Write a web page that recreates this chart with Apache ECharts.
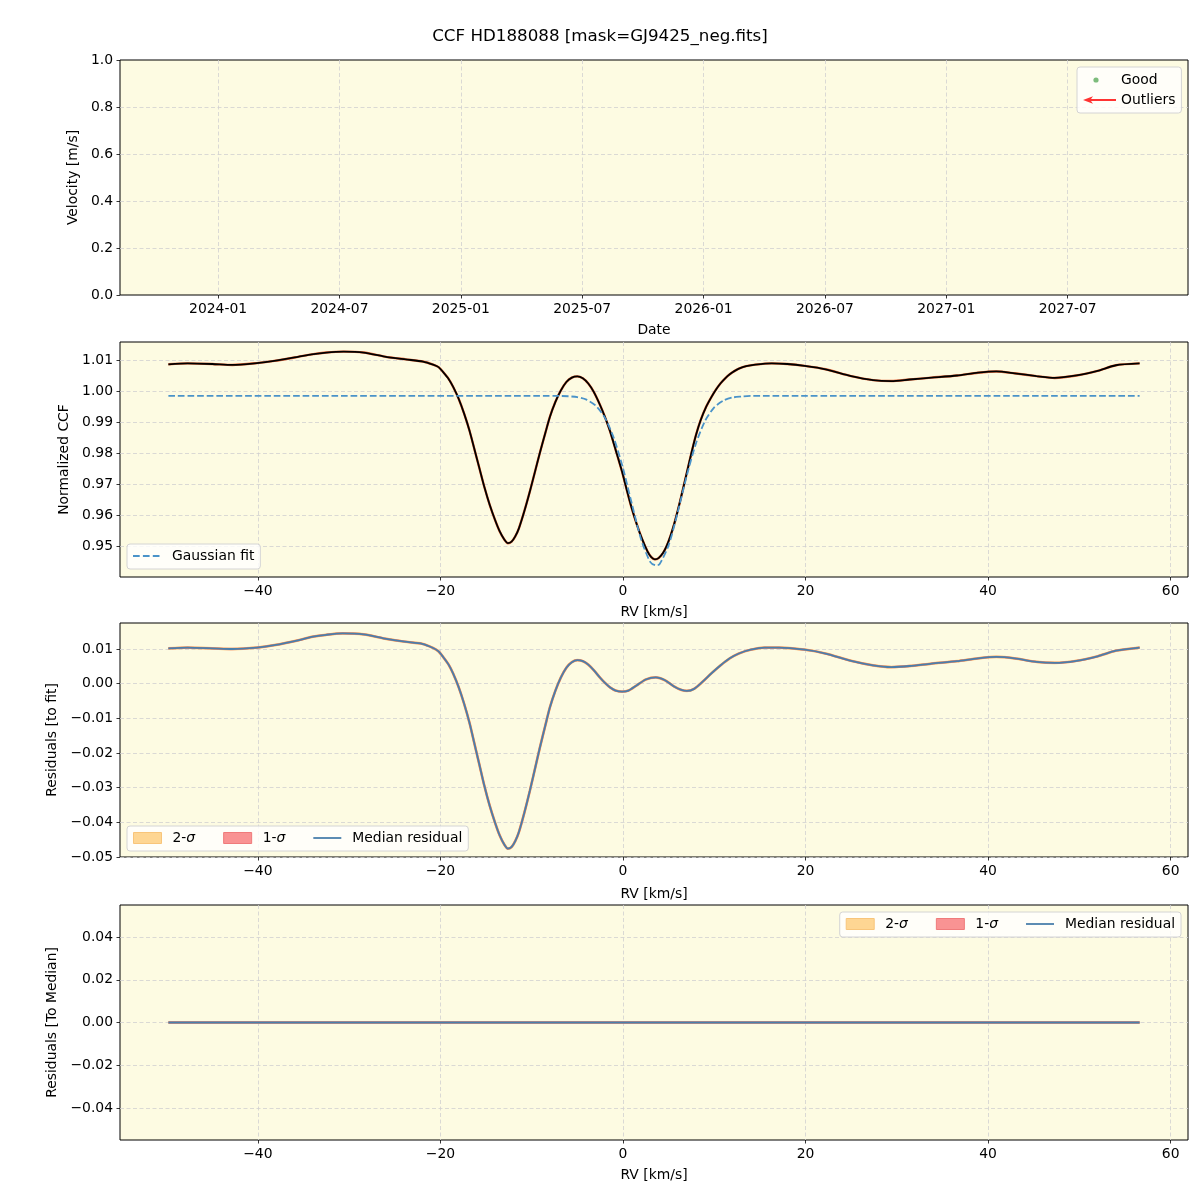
<!DOCTYPE html>
<html><head><meta charset="utf-8">
<script src="https://cdn.jsdelivr.net/npm/echarts@6/dist/echarts.min.js"></script>
<style>html,body{margin:0;padding:0;background:#fff}#c{width:1200px;height:1200px}</style>
</head><body><div id="c"></div>
<script>
// ---------- data ----------
const TITLE = 'CCF HD188088 [mask=GJ9425_neg.fits]';

// Tick positions
const rvTicks   = [-40, -20, 0, 20, 40, 60];
const dateTicks = [12, 18, 24, 30, 36, 42, 48, 54];   // months since 2023-01
const velTicks  = [0, 0.2, 0.4, 0.6, 0.8, 1.0];
const ccfTicks  = [0.95, 0.96, 0.97, 0.98, 0.99, 1.00, 1.01];
const resTicks  = [-0.05, -0.04, -0.03, -0.02, -0.01, 0.00, 0.01];
const medTicks  = [-0.04, -0.02, 0.00, 0.02, 0.04];

// Panel 2: normalized CCF
const ccfRV = [-49.8,-47.7,-45.0,-42.8,-40.1,-38.2,-35.6,-34.1,-32.5,-30.6,-28.4,-26.1,-23.8,-21.9,-20.8,-20.2,-19.7,-19.1,-18.6,-18.0,-17.4,-16.8,-16.3,-15.7,-15.2,-14.6,-14.0,-13.5,-13.0,-12.6,-12.2,-11.8,-11.4,-10.8,-10.2,-9.6,-9.1,-8.5,-8.0,-7.4,-6.8,-6.2,-5.6,-5.0,-4.4,-3.8,-3.2,-2.5,-2.0,-1.4,-0.8,-0.1,0.4,0.9,1.5,2.1,2.7,3.1,3.5,3.9,4.4,4.8,5.2,5.6,6.0,6.4,7.0,7.5,8.0,8.5,9.1,9.7,10.2,10.7,11.2,11.7,12.2,12.7,13.5,14.5,16.3,18.0,19.9,22.2,25.0,27.4,29.4,31.4,33.8,36.6,38.9,40.9,42.9,45.3,47.3,49.7,52.0,54.0,56.6];
const ccfVal = [1.0086,1.0089,1.0087,1.0084,1.0090,1.0097,1.0110,1.0118,1.0124,1.0127,1.0124,1.0111,1.0102,1.0095,1.0085,1.0077,1.0061,1.0039,1.0013,0.9975,0.9927,0.9871,0.9815,0.9748,0.9692,0.9633,0.9583,0.9547,0.9521,0.9509,0.9514,0.9531,0.9557,0.9613,0.9676,0.9744,0.9801,0.9865,0.9917,0.9965,1.0002,1.0029,1.0043,1.0047,1.0041,1.0024,0.9997,0.9954,0.9918,0.9869,0.9810,0.9740,0.9683,0.9628,0.9571,0.9522,0.9482,0.9464,0.9457,0.9461,0.9478,0.9501,0.9532,0.9570,0.9614,0.9662,0.9737,0.9800,0.9858,0.9905,0.9948,0.9981,1.0005,1.0025,1.0041,1.0054,1.0064,1.0072,1.0080,1.0085,1.0089,1.0087,1.0081,1.0070,1.0048,1.0035,1.0032,1.0037,1.0043,1.0050,1.0059,1.0063,1.0057,1.0048,1.0042,1.0050,1.0065,1.0083,1.0089];

// Panel 2: Gaussian fit
const fitRV  = [-49.8,-7,-6,-5,-4,-3,-2,-1,0,1,2,3,3.6,4,5,6,7,8,9,10,11,12,13,14,56.6];
const fitVal = [0.9984,0.9984,0.9983,0.9980,0.9972,0.9953,0.9915,0.9848,0.9751,0.9633,0.9520,0.9448,0.9438,0.9441,0.9502,0.9609,0.9728,0.9831,0.9904,0.9947,0.9969,0.9979,0.9982,0.9984,0.9984];

// Panel 3: residuals to fit
const resRV  = [-49.8,-47.7,-45.0,-42.8,-40.1,-38.2,-35.6,-34.1,-32.5,-30.7,-28.4,-26.1,-23.9,-22.0,-20.8,-20.2,-19.7,-19.1,-18.6,-18.0,-17.4,-16.8,-16.3,-15.7,-15.2,-14.6,-14.0,-13.5,-13.0,-12.6,-12.2,-11.8,-11.4,-10.8,-10.2,-9.6,-9.1,-8.5,-8.0,-7.4,-6.8,-6.2,-5.6,-5.0,-4.4,-3.8,-3.2,-2.5,-2.0,-1.4,-0.8,-0.1,0.6,1.5,2.5,3.6,4.6,5.6,6.4,7.0,7.8,8.7,9.7,10.7,11.7,12.7,14.0,15.5,17.1,19.9,22.2,25.0,27.4,29.4,31.4,33.8,36.6,38.9,40.9,42.9,45.3,47.3,49.7,52.0,54.0,56.6];
const resVal = [0.0102,0.0104,0.0102,0.0100,0.0104,0.0111,0.0125,0.0135,0.0141,0.0145,0.0142,0.0130,0.0121,0.0115,0.0103,0.0093,0.0077,0.0055,0.0029,-0.0010,-0.0058,-0.0114,-0.0170,-0.0237,-0.0293,-0.0352,-0.0402,-0.0438,-0.0464,-0.0476,-0.0471,-0.0454,-0.0428,-0.0372,-0.0309,-0.0241,-0.0184,-0.0120,-0.0068,-0.0020,0.0018,0.0046,0.0062,0.0068,0.0065,0.0055,0.0039,0.0017,0.0003,-0.0011,-0.0020,-0.0023,-0.0020,-0.0005,0.0012,0.0018,0.0010,-0.0008,-0.0018,-0.0021,-0.0015,0.0005,0.0030,0.0053,0.0073,0.0087,0.0098,0.0104,0.0104,0.0098,0.0087,0.0066,0.0053,0.0048,0.0051,0.0058,0.0065,0.0073,0.0077,0.0073,0.0063,0.0060,0.0066,0.0079,0.0095,0.0104];

// Panel 4: residuals to median
const medRV  = [-49.8, 56.6];
const medVal = [0.0, 0.0];

// Panel 1 (empty): good points / outliers
const goodPts = [];
const outlierPts = [];

// ---------- helpers ----------
const zip = (a, b) => a.map((x, i) => [x, b[i]]);
const FONT = 'DejaVu Sans';
const FS = 13.9;
const BG = '#fdfbe2';
const isMult = (v, step) => Math.abs(v / step - Math.round(v / step)) < 1e-6;
const fmt = (v, d) => { if (Math.abs(v) < 1e-9) v = 0; return (v < 0 ? '\u2212' : '') + Math.abs(v).toFixed(d); };
const monthLabel = m => { const r = Math.round(m); const y = 2023 + Math.floor(r / 12); const mo = (r % 12) + 1; return y + '-' + (mo < 10 ? '0' : '') + mo; };

const gridBase = { left: 120, width: 1068, show: true, backgroundColor: BG, borderColor: '#000', borderWidth: 1, containLabel: false, outerBoundsMode: 'none' };
const splitLine = { show: true, lineStyle: { color: '#d0d0d0', type: [4, 2.5], width: 0.8 } };
const splitLineNoEdges = Object.assign({}, splitLine, { showMinLine: false, showMaxLine: false });
const tick = vals => ({ show: true, inside: false, length: 3.5, customValues: vals, lineStyle: { color: '#000', width: 0.8 } });
const axisLine = { show: false, onZero: false };
const labelBase = { color: '#000', fontFamily: FONT, fontSize: FS, margin: 7 };
const nameStyle = { color: '#000', fontFamily: FONT, fontSize: FS, lineHeight: 14 };

function xAxisRV(gi, gap) {
  return { type: 'value', gridIndex: gi, min: -55.1, max: 61.9, minInterval: 20, maxInterval: 20,
    name: 'RV [km/s]', nameLocation: 'middle', nameGap: gap, nameTextStyle: nameStyle,
    axisLine, axisTick: tick(rvTicks), splitLine,
    axisLabel: Object.assign({}, labelBase, { formatter: v => isMult(v, 20) ? fmt(v, 0) : '' }) };
}
function yAxisV(gi, name, gap, min, max, step, dec, ticks, sl) {
  return { type: 'value', gridIndex: gi, min, max, minInterval: step, maxInterval: step,
    name, nameLocation: 'middle', nameGap: gap, nameTextStyle: nameStyle,
    axisLine, axisTick: tick(ticks), splitLine: sl || splitLine,
    axisLabel: Object.assign({}, labelBase, { formatter: v => ticks.some(t => Math.abs(t - v) < step * 1e-4) ? fmt(v, dec) : '' }) };
}

const legendBox = { backgroundColor: 'rgba(255,255,255,0.8)', borderColor: '#d4d4d4', borderWidth: 1, borderRadius: 3 };
const legendText = { fontFamily: FONT, fontSize: FS, color: '#000', lineHeight: 14, padding: [0, 0, 0, 6], rich: { i: { fontFamily: FONT, fontSize: FS, fontStyle: 'italic', color: '#000' } } };
const sigmaFmt = n => n.replace('\u03c3', '{i|\u03c3}');
const patch2 = { color: '#fed693', borderColor: '#f8c57a', borderWidth: 1 };
const patch1 = { color: '#f99393', borderColor: '#ef7b7b', borderWidth: 1 };
const lineIcon = 'path://M0,0M28,11M0,4.6L28,4.6L28,6.4L0,6.4Z';
const dashIcon = 'path://M0,0M28,11M0,4.6L6.7,4.6L6.7,6.4L0,6.4ZM9.9,4.6L16.6,4.6L16.6,6.4L9.9,6.4ZM19.8,4.6L26.5,4.6L26.5,6.4L19.8,6.4Z';
const sigmaLegendData = [
  { name: '2-\u03c3', icon: 'rect', itemStyle: patch2 },
  { name: '1-\u03c3', icon: 'rect', itemStyle: patch1 },
  { name: 'Median residual', icon: lineIcon, itemStyle: { color: '#4a7fab', borderWidth: 0 } }
];

const dotIcon = 'path://M0,0M33,8M10.4,4A2.6,2.6,0,1,1,15.6,4A2.6,2.6,0,1,1,10.4,4Z';
const arrowIcon = 'path://M0,4L10,0.2L8,2.9L33,2.9L33,5.1L8,5.1L10,7.8Z';

const lineS = (name, ax, data, color, width, extra) => Object.assign({
  type: 'line', name, xAxisIndex: ax, yAxisIndex: ax, data, showSymbol: false, symbol: 'none',
  smooth: 0.25, silent: true, lineStyle: { color, width }, itemStyle: { color }
}, extra || {});

const option = {
  animation: false,
  backgroundColor: '#fff',
  title: { text: TITLE, left: 'center', top: 23, textStyle: { fontFamily: FONT, fontSize: 16.7, fontWeight: 'normal', color: '#000', lineHeight: 17 } },
  grid: [
    Object.assign({ top: 60, height: 235 }, gridBase),
    Object.assign({ top: 342, height: 235 }, gridBase),
    Object.assign({ top: 623, height: 234 }, gridBase),
    Object.assign({ top: 905, height: 235 }, gridBase)
  ],
  xAxis: [
    { type: 'value', gridIndex: 0, min: 7.15, max: 59.95, minInterval: 6, maxInterval: 6,
      name: 'Date', nameLocation: 'middle', nameGap: 28, nameTextStyle: nameStyle,
      axisLine, axisTick: tick(dateTicks), splitLine,
      axisLabel: Object.assign({}, labelBase, { formatter: v => isMult(v, 6) ? monthLabel(v) : '' }) },
    xAxisRV(1, 28), xAxisRV(2, 30), xAxisRV(3, 28)
  ],
  yAxis: [
    yAxisV(0, 'Velocity [m/s]', 39, 0, 1, 0.2, 1, velTicks, splitLineNoEdges),
    yAxisV(1, 'Normalized CCF', 47, 0.94, 1.0158, 0.01, 2, ccfTicks),
    yAxisV(2, 'Residuals [to fit]', 59, -0.05, 0.0175, 0.01, 2, resTicks),
    yAxisV(3, 'Residuals [To Median]', 58, -0.055, 0.055, 0.02, 2, medTicks)
  ],
  legend: [
    Object.assign({ orient: 'vertical', left: 1077, top: 67, padding: [6, 6, 6, 6], itemWidth: 33, itemHeight: 8, itemGap: 6,
      textStyle: Object.assign({}, legendText, { padding: [0, 0, 0, 0] }), selectedMode: false,
      data: [{ name: 'Good', icon: dotIcon }, { name: 'Outliers', icon: arrowIcon }] }, legendBox),
    Object.assign({ left: 127, top: 544, padding: [5, 6, 6, 6], itemWidth: 28, itemHeight: 11,
      textStyle: legendText, selectedMode: false,
      data: [{ name: 'Gaussian fit', icon: dashIcon, itemStyle: { color: '#4a93c9', borderWidth: 0 } }] }, legendBox),
    Object.assign({ left: 127, top: 826, padding: [5, 6, 6, 6], itemWidth: 28, itemHeight: 11, itemGap: 28,
      textStyle: legendText, formatter: sigmaFmt, selectedMode: false, data: sigmaLegendData }, legendBox),
    Object.assign({ right: 19, top: 912, padding: [5, 6, 6, 6], itemWidth: 28, itemHeight: 11, itemGap: 28,
      textStyle: legendText, formatter: sigmaFmt, selectedMode: false, data: sigmaLegendData }, legendBox)
  ],
  series: [
    { type: 'scatter', name: 'Good', xAxisIndex: 0, yAxisIndex: 0, data: goodPts, symbolSize: 5, itemStyle: { color: '#5cab5c' } },
    { type: 'scatter', name: 'Outliers', xAxisIndex: 0, yAxisIndex: 0, data: outlierPts, symbolSize: 5, itemStyle: { color: '#ff0000' } },

    lineS('CCF band', 1, zip(ccfRV, ccfVal), '#e8683a', 2.4),
    lineS('CCF', 1, zip(ccfRV, ccfVal), '#000000', 1.8),
    lineS('Gaussian fit', 1, zip(fitRV, fitVal), '#4a93c9', 1.8, { lineStyle: { color: '#4a93c9', width: 1.8, type: [6.7, 2.9] }, z: 3 }),

    lineS('2-\u03c3', 2, zip(resRV, resVal), '#fdc870', 2.7),
    lineS('1-\u03c3', 2, zip(resRV, resVal), '#ee7a6a', 2.3),
    lineS('Median residual', 2, zip(resRV, resVal), '#4a7fab', 1.8),

    lineS('2-\u03c3', 3, zip(medRV, medVal), '#fdc870', 2.7),
    lineS('1-\u03c3', 3, zip(medRV, medVal), '#ee7a6a', 2.3),
    lineS('Median residual', 3, zip(medRV, medVal), '#4a7fab', 1.8)
  ]
};

const chart = echarts.init(document.getElementById('c'), null, { renderer: 'canvas' });
chart.setOption(option);
</script></body></html>
